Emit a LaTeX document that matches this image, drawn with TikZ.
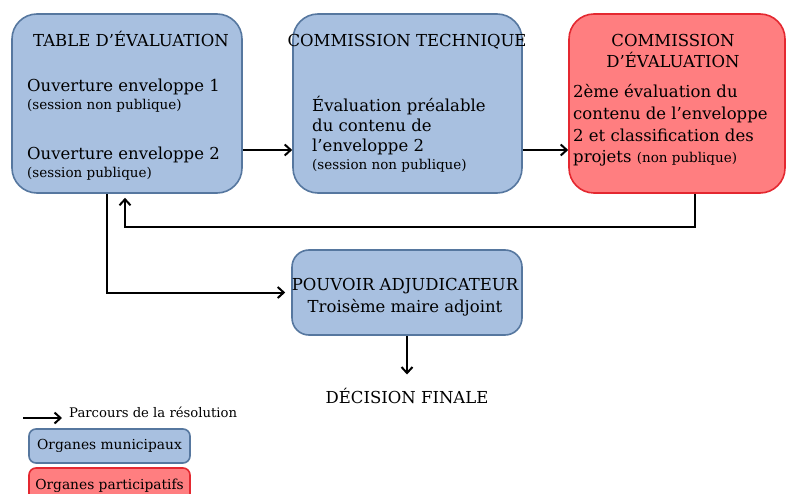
\documentclass[tikz,border=0pt]{standalone}
\usepackage{fontspec}
\setmainfont{DejaVu Serif}
\usetikzlibrary{arrows.meta}
\definecolor{bleufond}{HTML}{A8C0E0}
\definecolor{bleubord}{HTML}{56779F}
\definecolor{rougefond}{HTML}{FF7E80}
\definecolor{rougebord}{HTML}{E42830}
\tikzset{
  organe/.style={draw=bleubord,fill=bleufond,line width=1.6pt,rounded corners=25pt},
  organep/.style={draw=rougebord,fill=rougefond,line width=1.6pt,rounded corners=25pt},
  txt/.style={inner sep=0pt,font=\fontsize{16.5}{20}\selectfont},
  petit/.style={inner sep=0pt,font=\fontsize{13.5}{15}\selectfont},
  fleche/.style={line width=2pt,-{Straight Barb[length=6pt,width=11pt]}}
}
\begin{document}
\begin{tikzpicture}[x=1pt,y=-1pt]
  \useasboundingbox (0,0) rectangle (786,494);
  % organes
  \node[organe,minimum width=230pt,minimum height=179pt] (table) at (127,103.5) {};
  \node[organe,minimum width=229pt,minimum height=179pt] (technique) at (407.5,103.5) {};
  \node[organep,minimum width=216pt,minimum height=179pt] (evaluation) at (677,103.5) {};
  \node[organe,rounded corners=17pt,minimum width=230pt,minimum height=85pt] (pouvoir) at (407,292.5) {};
  % textes
  \node[txt,anchor=base] (titretable) at (131,47) {TABLE D’ÉVALUATION};
  \node[txt,anchor=base west] (ouv1) at (27,92) {Ouverture enveloppe 1};
  \node[petit,anchor=base west] (sess1) at (27,110) {(session non publique)};
  \node[txt,anchor=base west] (ouv2) at (27,160) {Ouverture enveloppe 2};
  \node[petit,anchor=base west] (sess2) at (27,178) {(session publique)};
  \node[txt,anchor=base] (titretech) at (407,47) {COMMISSION TECHNIQUE};
  \node[txt,anchor=base west] (tech1) at (312,112) {Évaluation préalable};
  \node[txt,anchor=base west] (tech2) at (312,132) {du contenu de};
  \node[txt,anchor=base west] (tech3) at (312,152) {l’enveloppe 2};
  \node[petit,anchor=base west] (tech4) at (312,170) {(session non publique)};
  \node[txt,anchor=base] (titreeval1) at (673,47) {COMMISSION};
  \node[txt,anchor=base] (titreeval2) at (673,68) {D’ÉVALUATION};
  \node[txt,anchor=base west] (eval1) at (573,98) {2ème évaluation du};
  \node[txt,anchor=base west] (eval2) at (573,120) {contenu de l’enveloppe};
  \node[txt,anchor=base west] (eval3) at (573,142) {2 et classification des};
  \node[txt,anchor=base west] (eval4) at (573,163) {projets {\fontsize{13.5}{15}\selectfont(non publique)}};
  \node[txt,anchor=base] (pouv1) at (405,290) {POUVOIR ADJUDICATEUR};
  \node[txt,anchor=base] (pouv2) at (405,312) {Troisème maire adjoint};
  \node[txt,anchor=base] (decision) at (407,403) {DÉCISION FINALE};
  % parcours
  \draw[fleche] ([yshift=-46.5pt]table.east) -- ([yshift=-46.5pt]technique.west);
  \draw[fleche] ([yshift=-46.5pt]technique.east) -- ([yshift=-46.5pt]evaluation.west);
  \coordinate (retour) at (695,227);
  \draw[fleche] (evaluation.south -| retour) -- (retour) -| ([xshift=-2pt,yshift=-4pt]table.south);
  \draw[fleche] ([xshift=-20pt]table.south) |- ([xshift=-6pt]pouvoir.west);
  \draw[fleche] (pouvoir.south) -- ([yshift=13pt]decision.north);
  % legende
  \node[petit,anchor=base west,font=\fontsize{13.2}{15}\selectfont] (parcours) at (69,417) {Parcours de la résolution};
  \draw[fleche] ([xshift=-46pt,yshift=-1pt]parcours.base west) -- ([xshift=-7pt,yshift=-1pt]parcours.base west);
  \node[organe,rounded corners=7pt,minimum width=161pt,minimum height=34pt,font=\fontsize{13.8}{15}\selectfont] (municipaux) at (109.5,446) {Organes municipaux};
  \node[organep,rounded corners=7pt,minimum width=161pt,minimum height=36pt,font=\fontsize{13.8}{15}\selectfont] (participatifs) at (109.5,486) {Organes participatifs};
\end{tikzpicture}
\end{document}
